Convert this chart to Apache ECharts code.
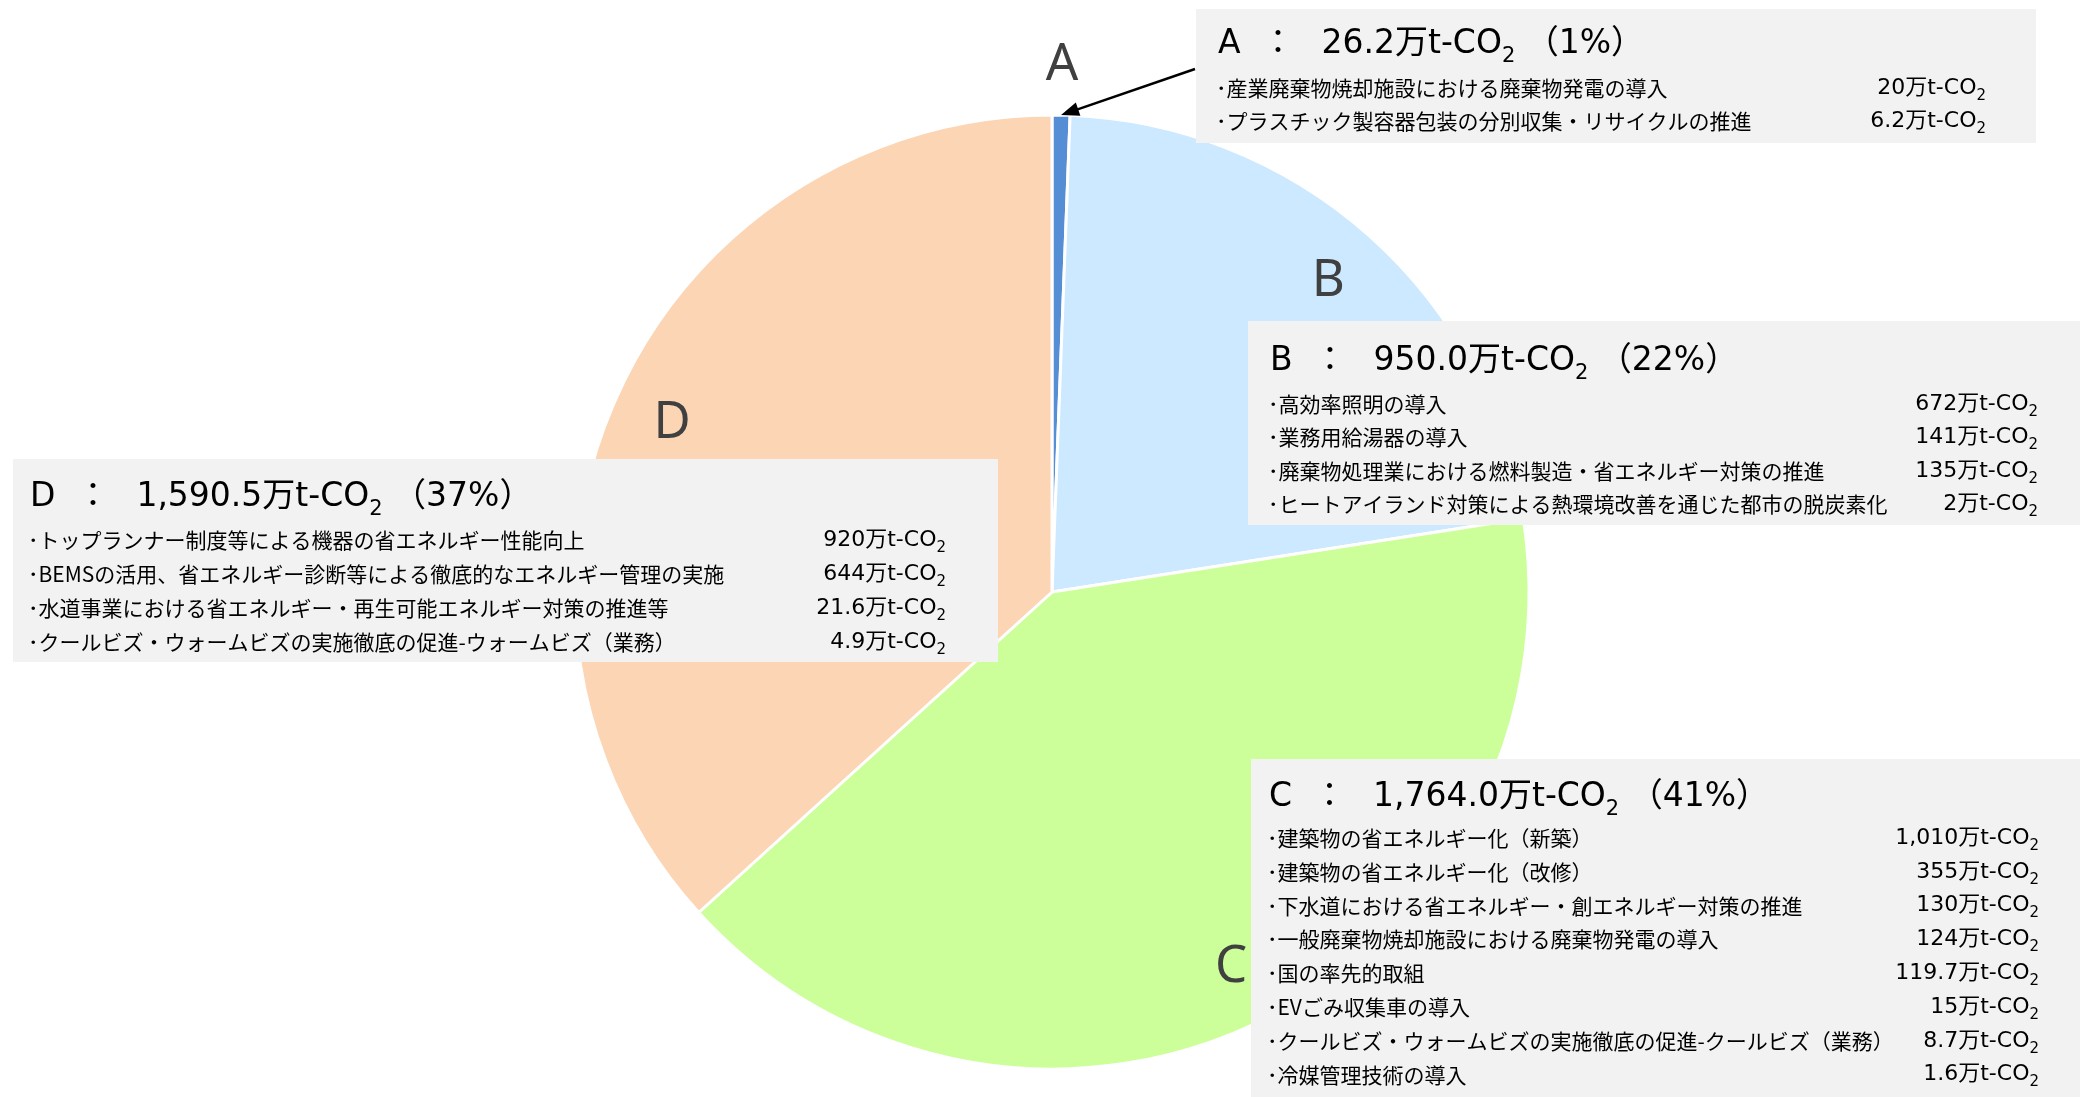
<!DOCTYPE html>
<html>
<head>
<meta charset="utf-8">
<script src="https://cdn.jsdelivr.net/npm/echarts@6/dist/echarts.min.js"></script>
<style>
  html, body { margin: 0; padding: 0; background: #fff; }
  #chart { width: 2080px; height: 1097px; }
</style>
</head>
<body>
<div id="chart"></div>
<script>
const categories = ["A", "B", "C", "D"];
const groupTotals = [26.2, 950.0, 1764.0, 1590.5];
const sliceColors = ["#558ed5", "#cce9ff", "#ccff99", "#fcd5b5"];

const itemsA = ["産業廃棄物焼却施設における廃棄物発電の導入", "プラスチック製容器包装の分別収集・リサイクルの推進"];
const valuesA = [20, 6.2];
const itemsB = ["高効率照明の導入", "業務用給湯器の導入", "廃棄物処理業における燃料製造・省エネルギー対策の推進", "ヒートアイランド対策による熱環境改善を通じた都市の脱炭素化"];
const valuesB = [672, 141, 135, 2];
const itemsC = ["建築物の省エネルギー化（新築）", "建築物の省エネルギー化（改修）", "下水道における省エネルギー・創エネルギー対策の推進", "一般廃棄物焼却施設における廃棄物発電の導入", "国の率先的取組", "EVごみ収集車の導入", "クールビズ・ウォームビズの実施徹底の促進-クールビズ（業務）", "冷媒管理技術の導入"];
const valuesC = [1010, 355, 130, 124, 119.7, 15, 8.7, 1.6];
const itemsD = ["トップランナー制度等による機器の省エネルギー性能向上", "BEMSの活用、省エネルギー診断等による徹底的なエネルギー管理の実施", "水道事業における省エネルギー・再生可能エネルギー対策の推進等", "クールビズ・ウォームビズの実施徹底の促進-ウォームビズ（業務）"];
const valuesD = [920, 644, 21.6, 4.9];

const groupItems = [itemsA, itemsB, itemsC, itemsD];
const groupValues = [valuesA, valuesB, valuesC, valuesD];

// pie geometry
const CX = 1052, CY = 592, R = 477;
const JP = "'Noto Sans CJK JP', 'Noto Sans', sans-serif";
const NUM = "'DejaVu Sans', 'Noto Sans CJK JP', sans-serif";

// box layout per group
const boxes = [
  { x: 1196, y: 9, w: 840, h: 134, titleY: 44, firstY: 88, rowH: 33, textX: 1218, valueX: 1986 },
  { x: 1248, y: 321, w: 832, h: 204, titleY: 361, firstY: 404, rowH: 33.4, textX: 1270, valueX: 2038 },
  { x: 1251, y: 759, w: 829, h: 338, titleY: 797, firstY: 838, rowH: 33.8, textX: 1269, valueX: 2039 },
  { x: 13, y: 459, w: 985, h: 203, titleY: 497, firstY: 540, rowH: 34, textX: 30, valueX: 946 },
];

const total = groupTotals.reduce((a, b) => a + b, 0);
const fmt = (v, digits) => v.toLocaleString("en-US", { minimumFractionDigits: digits, maximumFractionDigits: 1 });

const titleRich = {
  m: { fontSize: 33, fontFamily: NUM, fill: "#000", lineHeight: 46 },
  s: { fontSize: 21, fontFamily: NUM, fill: "#000", lineHeight: 21, verticalAlign: "bottom" },
};
const itemRich = {
  m: { fontSize: 21, fontFamily: JP, fill: "#000", lineHeight: 30 },
};
const valueRich = {
  m: { fontSize: 22, fontFamily: NUM, fill: "#000", lineHeight: 31 },
  s: { fontSize: 15, fontFamily: NUM, fill: "#000", lineHeight: 15, verticalAlign: "bottom" },
};

const graphics = [];
categories.forEach((cat, i) => {
  const b = boxes[i];
  graphics.push({
    type: "rect", z: 10, silent: true,
    shape: { x: b.x, y: b.y, width: b.w, height: b.h },
    style: { fill: "#f2f2f2" },
  });
  const pct = Math.round((groupTotals[i] / total) * 100);
  graphics.push({
    type: "text", z: 11, silent: true,
    style: {
      x: b.textX, y: b.titleY,
      text: "{m|" + cat + "  ：\u2002 " + fmt(groupTotals[i], 1) + "万t-CO}{s|2}{m| （" + pct + "%）}",
      rich: titleRich, align: "left", verticalAlign: "middle",
    },
  });
  groupItems[i].forEach((name, j) => {
    const y = b.firstY + j * b.rowH;
    graphics.push({
      type: "text", z: 11, silent: true,
      style: { x: b.textX - 2, y: y, text: "{m|･" + name + "}", rich: itemRich, align: "left", verticalAlign: "middle" },
    });
    graphics.push({
      type: "text", z: 11, silent: true,
      style: { x: b.valueX, y: y, text: "{m|" + fmt(groupValues[i][j], 0) + "万t-CO}{s|2}", rich: valueRich, align: "right", verticalAlign: "middle" },
    });
  });
});

// arrow from box A to the middle of slice A
const aMid = (groupTotals[0] / total) * Math.PI;
const tipX = CX + R * Math.sin(aMid);
const tipY = CY - R * Math.cos(aMid);
const startX = boxes[0].x - 1, startY = 69;
const len = Math.hypot(tipX - startX, tipY - startY);
const ux = (tipX - startX) / len, uy = (tipY - startY) / len;
const headL = 18, headW = 7;
graphics.push({
  type: "line", z: 12, silent: true,
  shape: { x1: startX, y1: startY, x2: tipX - ux * headL * 0.8, y2: tipY - uy * headL * 0.8 },
  style: { stroke: "#000", lineWidth: 2.5 },
});
graphics.push({
  type: "polygon", z: 12, silent: true,
  shape: {
    points: [
      [tipX, tipY],
      [tipX - ux * headL - uy * headW, tipY - uy * headL + ux * headW],
      [tipX - ux * headL + uy * headW, tipY - uy * headL - ux * headW],
    ],
  },
  style: { fill: "#000" },
});

const letterLabel = { formatter: "{b}", fontSize: 51, color: "#404040", fontFamily: "'Noto Sans', sans-serif" };

const chart = echarts.init(document.getElementById("chart"));
chart.setOption({
  backgroundColor: "#fff",
  animation: false,
  series: [
    {
      type: "pie",
      center: [CX, CY],
      radius: [0, R],
      startAngle: 90,
      clockwise: true,
      silent: true,
      label: { show: false },
      labelLine: { show: false },
      itemStyle: { borderColor: "#fff", borderWidth: 3 },
      data: categories.map((c, i) => ({ name: c, value: groupTotals[i], itemStyle: { color: sliceColors[i] } })),
    },
    {
      // letters inside the slices
      type: "pie",
      center: [CX, CY],
      radius: [R * 0.73, R],
      silent: true,
      avoidLabelOverlap: false,
      itemStyle: { color: "transparent", borderWidth: 0 },
      label: Object.assign({ position: "inside" }, letterLabel),
      labelLine: { show: false },
      data: categories.map((c, i) => ({ name: c, value: groupTotals[i], label: { show: i > 0 } })),
    },
    {
      // letter A above the pie
      type: "pie",
      center: [CX, CY],
      radius: [R, R * 1.197],
      silent: true,
      avoidLabelOverlap: false,
      itemStyle: { color: "transparent", borderWidth: 0 },
      label: Object.assign({ position: "inside" }, letterLabel),
      labelLine: { show: false },
      data: categories.map((c, i) => ({ name: c, value: groupTotals[i], label: { show: i === 0 } })),
    },
  ],
  graphic: { elements: graphics },
});
</script>
</body>
</html>
